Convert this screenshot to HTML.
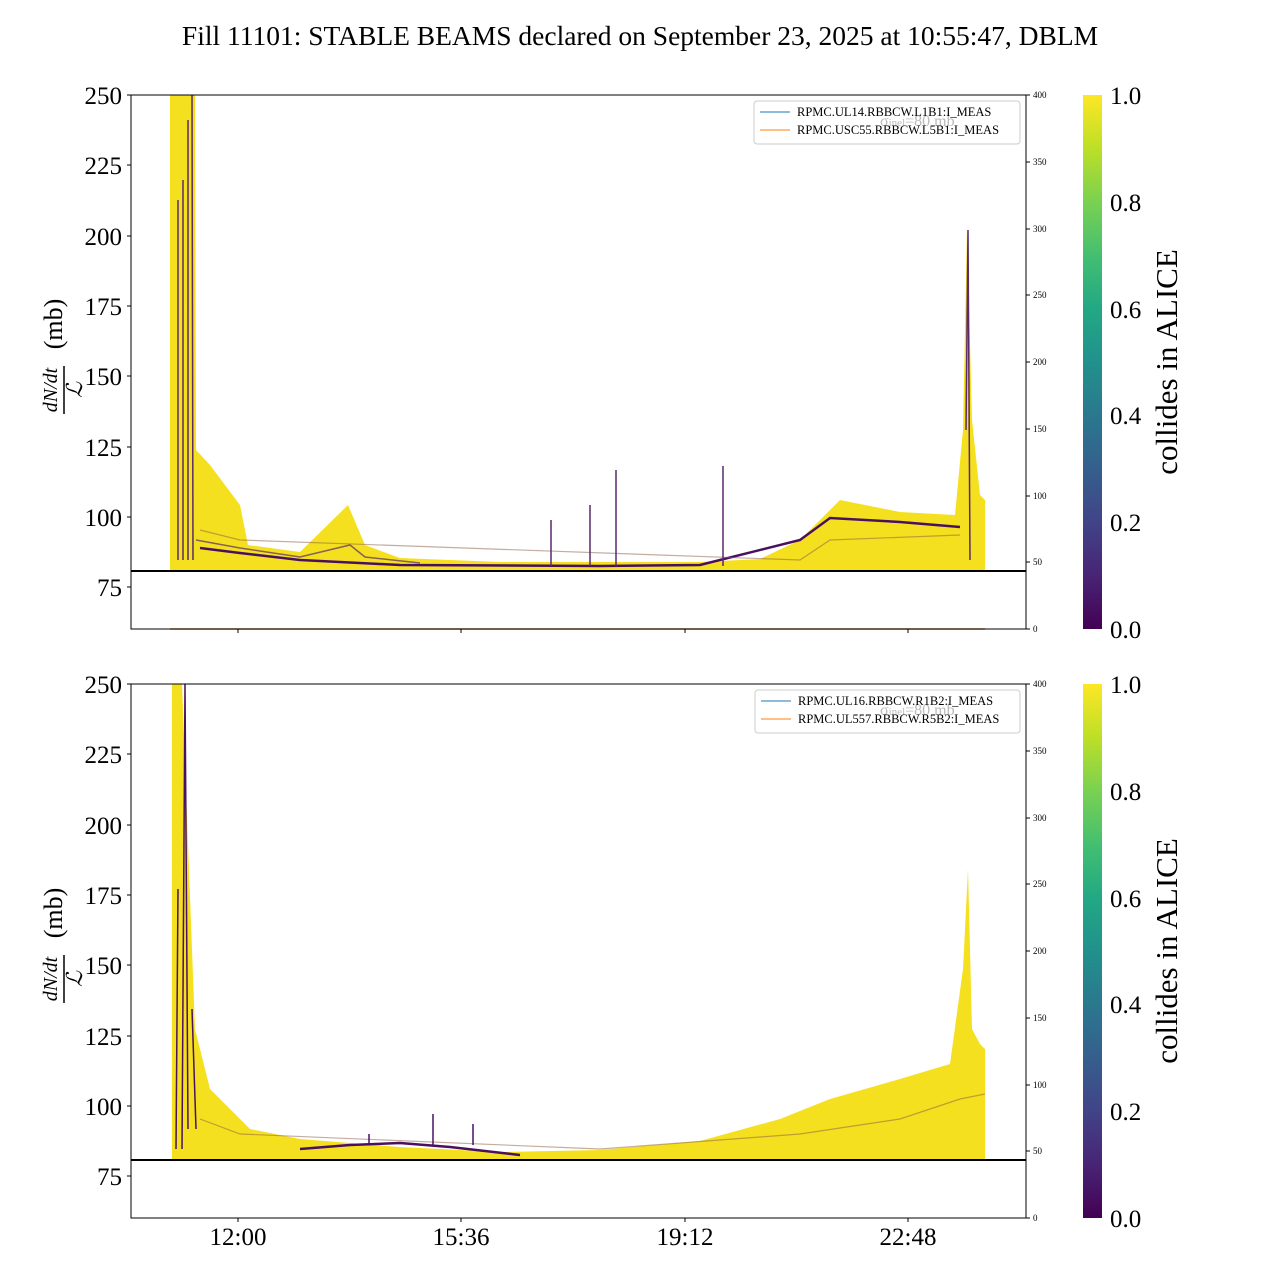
<!DOCTYPE html>
<html><head><meta charset="utf-8"><style>
body{margin:0;background:#fff}
svg{display:block}
text{font-family:"Liberation Serif",serif;fill:#000}
</style></head><body>
<svg width="1280" height="1280" viewBox="0 0 1280 1280" xmlns="http://www.w3.org/2000/svg">
<defs>
<linearGradient id="cb" x1="0" y1="1" x2="0" y2="0">
<stop offset="0" stop-color="#440154"/><stop offset="0.1" stop-color="#482475"/><stop offset="0.2" stop-color="#414487"/><stop offset="0.3" stop-color="#355f8d"/><stop offset="0.4" stop-color="#2a788e"/><stop offset="0.5" stop-color="#21918c"/><stop offset="0.6" stop-color="#22a884"/><stop offset="0.7" stop-color="#44bf70"/><stop offset="0.8" stop-color="#7ad151"/><stop offset="0.9" stop-color="#bddf26"/><stop offset="1" stop-color="#fde725"/>
</linearGradient>
</defs>
<text x="640" y="45" font-size="27.5" text-anchor="middle">Fill 11101: STABLE BEAMS declared on September 23, 2025 at 10:55:47, DBLM</text>

<!-- Panel 1 -->
<g>
<polygon fill="#f5e020" points="170,95 195,95 196,450 210,465 240,505 248,545 300,552 348,505 365,545 400,558 500,562 700,562 760,559 800,540 830,510 840,500 900,512 955,515 963,430 967,228 972,420 980,495 985,500 985,571 170,571"/>
<polyline fill="none" stroke="#4a1060" stroke-width="2.5" points="200,548 240,553 300,560 400,565 600,566 700,565 800,540 830,518 900,522 960,527"/>
<polyline fill="none" stroke="#5a2a6a" stroke-width="1.5" opacity="0.7" points="196,540 240,548 300,557 350,545 365,557 420,563"/>
<polyline fill="none" stroke="#8a5a40" stroke-width="1.2" opacity="0.5" points="200,530 240,540 800,560 830,540 960,535"/>
<path fill="none" stroke="#5a2a6a" stroke-width="1.5" d="M178,560 L178,200 M183,560 L183,180 M188,560 L188,120 M192,95 L193,560 M551,520 L551,566 M590,505 L590,566 M616,470 L616,566 M723,466 L723,566 M966,430 L968,230 L970,560"/>
<line x1="170" y1="629" x2="985" y2="629" stroke="#c87a30" stroke-width="1.5"/>
<line x1="131" y1="571" x2="1026" y2="571" stroke="#000" stroke-width="2"/>
<rect x="131" y="95" width="895" height="534" fill="none" stroke="#000" stroke-width="1"/>
<g font-size="25" text-anchor="end">
<text x="122" y="104">250</text><text x="122" y="174">225</text><text x="122" y="245">200</text><text x="122" y="315">175</text><text x="122" y="385">150</text><text x="122" y="456">125</text><text x="122" y="526">100</text><text x="122" y="596">75</text>
</g>
<g stroke="#000"><line x1="127" y1="95" x2="131" y2="95"/><line x1="127" y1="165" x2="131" y2="165"/><line x1="127" y1="236" x2="131" y2="236"/><line x1="127" y1="306" x2="131" y2="306"/><line x1="127" y1="376" x2="131" y2="376"/><line x1="127" y1="447" x2="131" y2="447"/><line x1="127" y1="517" x2="131" y2="517"/><line x1="127" y1="587" x2="131" y2="587"/>
<line x1="238" y1="629" x2="238" y2="633"/><line x1="461" y1="629" x2="461" y2="633"/><line x1="685" y1="629" x2="685" y2="633"/><line x1="908" y1="629" x2="908" y2="633"/>
<line x1="1026" y1="95" x2="1030" y2="95"/><line x1="1026" y1="162" x2="1030" y2="162"/><line x1="1026" y1="229" x2="1030" y2="229"/><line x1="1026" y1="295" x2="1030" y2="295"/><line x1="1026" y1="362" x2="1030" y2="362"/><line x1="1026" y1="429" x2="1030" y2="429"/><line x1="1026" y1="496" x2="1030" y2="496"/><line x1="1026" y1="562" x2="1030" y2="562"/><line x1="1026" y1="629" x2="1030" y2="629"/></g>
<g font-size="9"><text x="1033" y="98">400</text><text x="1033" y="165">350</text><text x="1033" y="232">300</text><text x="1033" y="298">250</text><text x="1033" y="365">200</text><text x="1033" y="432">150</text><text x="1033" y="499">100</text><text x="1033" y="565">50</text><text x="1033" y="632">0</text></g>
<rect x="754" y="101" width="266" height="43" rx="3" fill="#fff" fill-opacity="0.8" stroke="#ccc"/>
<text x="880" y="126" font-size="16" style="fill:#bbb">σ<tspan font-size="11">inel</tspan>=80 mb</text>
<line x1="760" y1="112" x2="790" y2="112" stroke="#1f77b4"/><line x1="760" y1="130" x2="790" y2="130" stroke="#ff7f0e"/>
<text x="797" y="116" font-size="12.5">RPMC.UL14.RBBCW.L1B1:I_MEAS</text><text x="797" y="134" font-size="12.5">RPMC.USC55.RBBCW.L5B1:I_MEAS</text>
<g transform="translate(62,362) rotate(-90)" font-size="26" text-anchor="middle"><text x="38" y="0">(mb)</text><text x="-28" y="-5" font-size="20" font-style="italic">dN/dt</text><line x1="-52" y1="2" x2="-4" y2="2" stroke="#000" stroke-width="1.5"/><text x="-28" y="20" font-size="22" font-style="italic">ℒ</text></g>
<rect x="1083" y="95" width="19" height="534" fill="url(#cb)"/>
<g font-size="25"><text x="1110" y="104">1.0</text><text x="1110" y="211">0.8</text><text x="1110" y="318">0.6</text><text x="1110" y="424">0.4</text><text x="1110" y="531">0.2</text><text x="1110" y="638">0.0</text></g>
<text transform="translate(1177,362) rotate(-90)" font-size="31" text-anchor="middle">collides in ALICE</text>
</g>

<!-- Panel 2 -->
<g transform="translate(0,589)">
<polygon fill="#f5e020" points="172,95 182,95 195,440 210,500 250,540 300,550 400,558 500,563 600,561 700,552 780,530 830,510 900,490 950,475 963,380 968,280 972,440 980,455 985,460 985,571 172,571"/>
<polyline fill="none" stroke="#4a1060" stroke-width="2.5" points="300,560 350,556 400,554 450,558 520,566"/>
<polyline fill="none" stroke="#8a5a40" stroke-width="1.2" opacity="0.5" points="200,530 240,545 600,560 800,545 900,530 960,510 985,505"/>
<path fill="none" stroke="#4a1060" stroke-width="1.5" d="M369,556 L369,545 M433,556 L433,525 M473,556 L473,535 M176,560 L178,300 M182,560 L185,95 L188,540 M192,420 L196,540"/>
<line x1="131" y1="571" x2="1026" y2="571" stroke="#000" stroke-width="2"/>
<rect x="131" y="95" width="895" height="534" fill="none" stroke="#000" stroke-width="1"/>
<g font-size="25" text-anchor="end">
<text x="122" y="104">250</text><text x="122" y="174">225</text><text x="122" y="245">200</text><text x="122" y="315">175</text><text x="122" y="385">150</text><text x="122" y="456">125</text><text x="122" y="526">100</text><text x="122" y="596">75</text>
</g>
<g stroke="#000"><line x1="127" y1="95" x2="131" y2="95"/><line x1="127" y1="165" x2="131" y2="165"/><line x1="127" y1="236" x2="131" y2="236"/><line x1="127" y1="306" x2="131" y2="306"/><line x1="127" y1="376" x2="131" y2="376"/><line x1="127" y1="447" x2="131" y2="447"/><line x1="127" y1="517" x2="131" y2="517"/><line x1="127" y1="587" x2="131" y2="587"/>
<line x1="238" y1="629" x2="238" y2="633"/><line x1="461" y1="629" x2="461" y2="633"/><line x1="685" y1="629" x2="685" y2="633"/><line x1="908" y1="629" x2="908" y2="633"/>
<line x1="1026" y1="95" x2="1030" y2="95"/><line x1="1026" y1="162" x2="1030" y2="162"/><line x1="1026" y1="229" x2="1030" y2="229"/><line x1="1026" y1="295" x2="1030" y2="295"/><line x1="1026" y1="362" x2="1030" y2="362"/><line x1="1026" y1="429" x2="1030" y2="429"/><line x1="1026" y1="496" x2="1030" y2="496"/><line x1="1026" y1="562" x2="1030" y2="562"/><line x1="1026" y1="629" x2="1030" y2="629"/></g>
<g font-size="9"><text x="1033" y="98">400</text><text x="1033" y="165">350</text><text x="1033" y="232">300</text><text x="1033" y="298">250</text><text x="1033" y="365">200</text><text x="1033" y="432">150</text><text x="1033" y="499">100</text><text x="1033" y="565">50</text><text x="1033" y="632">0</text></g>
<rect x="755" y="101" width="265" height="43" rx="3" fill="#fff" fill-opacity="0.8" stroke="#ccc"/>
<text x="880" y="126" font-size="16" style="fill:#bbb">σ<tspan font-size="11">inel</tspan>=80 mb</text>
<line x1="761" y1="112" x2="791" y2="112" stroke="#1f77b4"/><line x1="761" y1="130" x2="791" y2="130" stroke="#ff7f0e"/>
<text x="798" y="116" font-size="12.5">RPMC.UL16.RBBCW.R1B2:I_MEAS</text><text x="798" y="134" font-size="12.5">RPMC.UL557.RBBCW.R5B2:I_MEAS</text>
<g transform="translate(62,362) rotate(-90)" font-size="26" text-anchor="middle"><text x="38" y="0">(mb)</text><text x="-28" y="-5" font-size="20" font-style="italic">dN/dt</text><line x1="-52" y1="2" x2="-4" y2="2" stroke="#000" stroke-width="1.5"/><text x="-28" y="20" font-size="22" font-style="italic">ℒ</text></g>
<rect x="1083" y="95" width="19" height="534" fill="url(#cb)"/>
<g font-size="25"><text x="1110" y="104">1.0</text><text x="1110" y="211">0.8</text><text x="1110" y="318">0.6</text><text x="1110" y="424">0.4</text><text x="1110" y="531">0.2</text><text x="1110" y="638">0.0</text></g>
<text transform="translate(1177,362) rotate(-90)" font-size="31" text-anchor="middle">collides in ALICE</text>
<g font-size="25" text-anchor="middle"><text x="238" y="656">12:00</text><text x="461" y="656">15:36</text><text x="685" y="656">19:12</text><text x="908" y="656">22:48</text></g>
</g>
</svg>
</body></html>
